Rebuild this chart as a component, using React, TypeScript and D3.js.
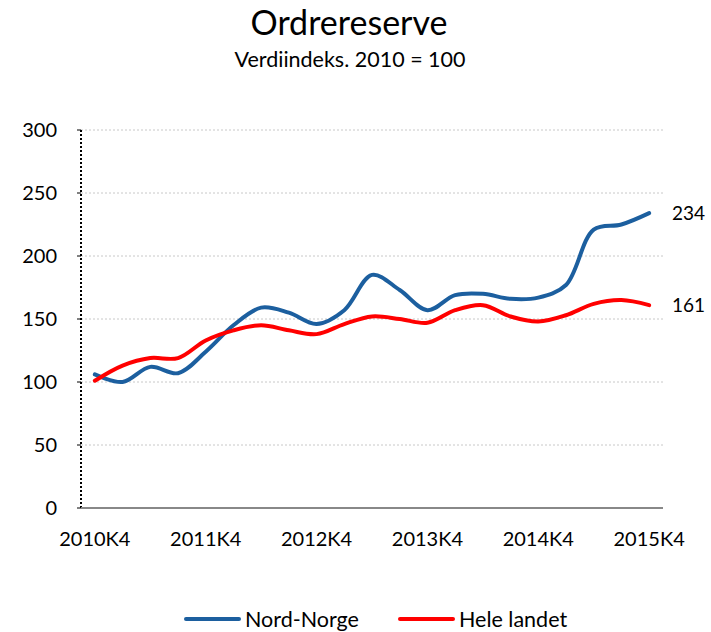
import React from "react";
import * as d3 from "d3";

const quarters: string[] = [];
for (let y = 2010; y <= 2015; y++) {
  for (let q = 1; q <= 4; q++) {
    if (y === 2010 && q < 4) continue;
    if (y === 2015 && q > 4) continue;
    quarters.push(`${y}K${q}`);
  }
}
const nordNorge = [106, 100, 112, 107, 124, 145, 159, 155, 146, 157, 185, 173, 157, 169, 170, 166, 167, 177, 221, 225, 234];
const heleLandet = [101, 113, 119, 119, 133, 141, 145, 141, 138, 146, 152, 150, 147, 157, 161, 152, 148, 153, 162, 165, 161];
const yTicks = [0, 50, 100, 150, 200, 250, 300];
const xLabels = ["2010K4", "2011K4", "2012K4", "2013K4", "2014K4", "2015K4"];

const W = 711, H = 632;
const left = 81, right = 663, top = 130, bottom = 508;
const FONT = "Lato, 'Open Sans', sans-serif";

export default function App() {
  const x = d3.scaleBand<string>().domain(quarters).range([left, right]);
  const cx = (q: string) => (x(q) as number) + x.bandwidth() / 2;
  const y = d3.scaleLinear().domain([0, 300]).range([bottom, top]);
  const line = d3
    .line<number>()
    .x((_, i) => cx(quarters[i]))
    .y((d) => y(d))
    .curve(d3.curveCatmullRom.alpha(0.5));
  const series = [
    { name: "Nord-Norge", values: nordNorge, color: "#1c5f9f" },
    { name: "Hele landet", values: heleLandet, color: "#ff0000" },
  ];
  const legendPos = [186, 400];
  return (
    <svg width={W} height={H} style={{ position: "absolute", left: 0, top: 0 }} fontFamily={FONT}>
      <rect width={W} height={H} fill="#fff" />
      <text x={349} y={35} textAnchor="middle" fontSize={34} fill="#000">Ordrereserve</text>
      <text x={350} y={67} textAnchor="middle" fontSize={21.5} fill="#000">Verdiindeks. 2010 = 100</text>
      {yTicks.map((t) => (
        <g key={t}>
          {t > 0 && (
            <line x1={left} x2={right} y1={y(t)} y2={y(t)} stroke="#c8c8c8" strokeWidth={1} strokeDasharray="2,2" />
          )}
          <line x1={left - 4} x2={left} y1={y(t)} y2={y(t)} stroke="#000" strokeWidth={1} />
          <text x={57} y={y(t) + 7} textAnchor="end" fontSize={20} fill="#000">{t}</text>
        </g>
      ))}
      <line x1={left} x2={left} y1={top} y2={bottom} stroke="#000" strokeWidth={2} strokeDasharray="2,2" />
      <line x1={left} x2={right} y1={bottom} y2={bottom} stroke="#888" strokeWidth={2} />
      {xLabels.map((l) => (
        <text key={l} x={cx(l)} y={546} textAnchor="middle" fontSize={20} fill="#000">{l}</text>
      ))}
      {series.map((s) => (
        <path key={s.name} d={line(s.values) || ""} fill="none" stroke={s.color} strokeWidth={4} strokeLinecap="round" strokeLinejoin="round" />
      ))}
      {series.map((s) => (
        <text key={s.name + "l"} x={672} y={y(s.values[s.values.length - 1]) + 7} fontSize={19} fill="#000">
          {s.values[s.values.length - 1]}
        </text>
      ))}
      {series.map((s, i) => (
        <g key={s.name + "g"}>
          <line x1={legendPos[i]} x2={legendPos[i] + 53} y1={619} y2={619} stroke={s.color} strokeWidth={4} strokeLinecap="round" />
          <text x={legendPos[i] + 59} y={627} fontSize={21.5} fill="#000">{s.name}</text>
        </g>
      ))}
    </svg>
  );
}
